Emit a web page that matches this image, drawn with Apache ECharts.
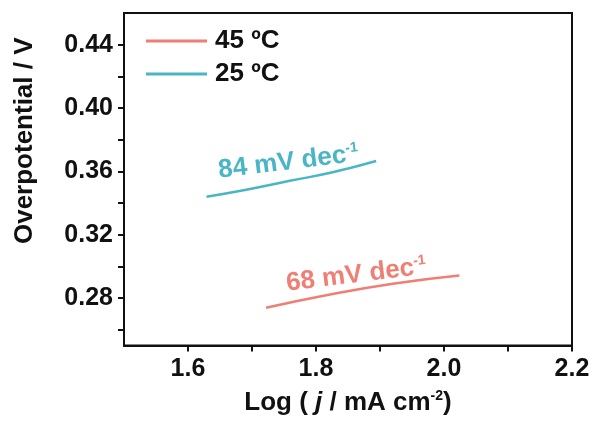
<!DOCTYPE html>
<html>
<head>
<meta charset="utf-8">
<script src="https://cdn.jsdelivr.net/npm/echarts@6/dist/echarts.min.js"></script>
<style>
  html, body { margin: 0; padding: 0; background: #fff; }
  #chart { width: 593px; height: 421px; }
</style>
</head>
<body>
<div id="chart"></div>
<script>
// 数据
const seriesNames = ['45 ºC', '25 ºC']
const logJ45 = [1.722, 1.816, 1.920, 2.024]
const eta45 = [0.2738, 0.2817, 0.2890, 0.2942]
const logJ25 = [1.629, 1.691, 1.759, 1.826, 1.894]
const eta25 = [0.344, 0.3484, 0.354, 0.3594, 0.3665]
const xLabels = [1.6, 1.8, 2.0, 2.2]
const xTicks = [1.6, 1.7, 1.8, 1.9, 2.0, 2.1, 2.2]
const yLabels = [0.28, 0.32, 0.36, 0.40, 0.44]
const yTicks = [0.26, 0.28, 0.30, 0.32, 0.34, 0.36, 0.38, 0.40, 0.42, 0.44]
const slopeLabels = ['68 mV dec', '84 mV dec']
const slopeAnchors = [[1.863, 0.2945], [1.757, 0.3658]]

const colors = { red: '#ef7f74', teal: '#4ab6c5' }
const font = '"Liberation Sans", Arial, sans-serif'

const chart = echarts.init(document.getElementById('chart'))

const zip = (xs, ys) => xs.map((x, i) => [x, ys[i]])

const axisCommon = {
  axisLine: { show: true, onZero: false, lineStyle: { color: '#111', width: 2 } },
  axisTick: { show: true, inside: false, length: 6, lineStyle: { color: '#111', width: 2 } },
  splitLine: { show: false },
  axisLabel: { color: '#111', fontSize: 25, fontWeight: 'bold', fontFamily: font, margin: 11 },
  nameTextStyle: { color: '#111', fontSize: 26, fontWeight: 'bold', fontFamily: font }
}

const option = {
  animation: false,
  backgroundColor: '#fff',
  grid: {
    left: 124, right: 21, top: 13, bottom: 75,
    show: true, borderColor: '#111', borderWidth: 2
  },
  legend: {
    orient: 'vertical',
    left: 146, top: 28,
    padding: 0,
    itemWidth: 61, itemHeight: 3, itemGap: 7,
    icon: 'rect',
    data: seriesNames,
    textStyle: { color: '#111', fontSize: 26, fontWeight: 'bold', fontFamily: font, padding: [0, 0, 0, 3] }
  },
  xAxis: {
    ...axisCommon,
    type: 'value',
    min: 1.5, max: 2.2,
    axisTick: { ...axisCommon.axisTick, customValues: xTicks },
    axisLabel: { ...axisCommon.axisLabel, customValues: xLabels, formatter: v => v.toFixed(1) },
    name: 'Log ( {i|j} / mA cm{sup|-2})',
    nameLocation: 'middle',
    nameGap: 44,
    nameTextStyle: {
      ...axisCommon.nameTextStyle,
      rich: {
        i: { fontStyle: 'italic', fontWeight: 'bold', fontSize: 26, fontFamily: font, color: '#111' },
        sup: { fontSize: 14, fontWeight: 'bold', fontFamily: font, color: '#111', verticalAlign: 'top', padding: [0, 0, 13, 0] }
      }
    }
  },
  yAxis: {
    ...axisCommon,
    type: 'value',
    min: 0.25, max: 0.46,
    axisTick: { ...axisCommon.axisTick, customValues: yTicks },
    axisLabel: { ...axisCommon.axisLabel, customValues: yLabels, formatter: v => v.toFixed(2) },
    name: 'Overpotential / V',
    nameLocation: 'middle',
    nameGap: 86,
    nameTextStyle: { ...axisCommon.nameTextStyle, padding: [0, 0, 0, 77] }
  },
  series: [
    {
      name: seriesNames[0],
      type: 'line',
      data: zip(logJ45, eta45),
      smooth: true,
      showSymbol: false,
      lineStyle: { color: colors.red, width: 2.5 },
      itemStyle: { color: colors.red }
    },
    {
      name: seriesNames[1],
      type: 'line',
      data: zip(logJ25, eta25),
      smooth: true,
      showSymbol: false,
      lineStyle: { color: colors.teal, width: 2.5 },
      itemStyle: { color: colors.teal }
    }
  ]
}

chart.setOption(option)

// 斜率标注，按数据坐标定位
const slopeColors = [colors.red, colors.teal]
const graphics = slopeLabels.map((txt, i) => {
  const p = chart.convertToPixel({ gridIndex: 0 }, slopeAnchors[i])
  return {
    type: 'text',
    x: p[0], y: p[1],
    rotation: 7 * Math.PI / 180,
    style: {
      text: txt + '{sup|-1}',
      fill: slopeColors[i],
      font: 'bold 26px ' + font,
      align: 'center',
      verticalAlign: 'middle',
      rich: {
        sup: { fontSize: 14, fontWeight: 'bold', fontFamily: font, fill: slopeColors[i], verticalAlign: 'top', padding: [0, 0, 13, 0] }
      }
    }
  }
})
chart.setOption({ graphic: graphics })
</script>
</body>
</html>
